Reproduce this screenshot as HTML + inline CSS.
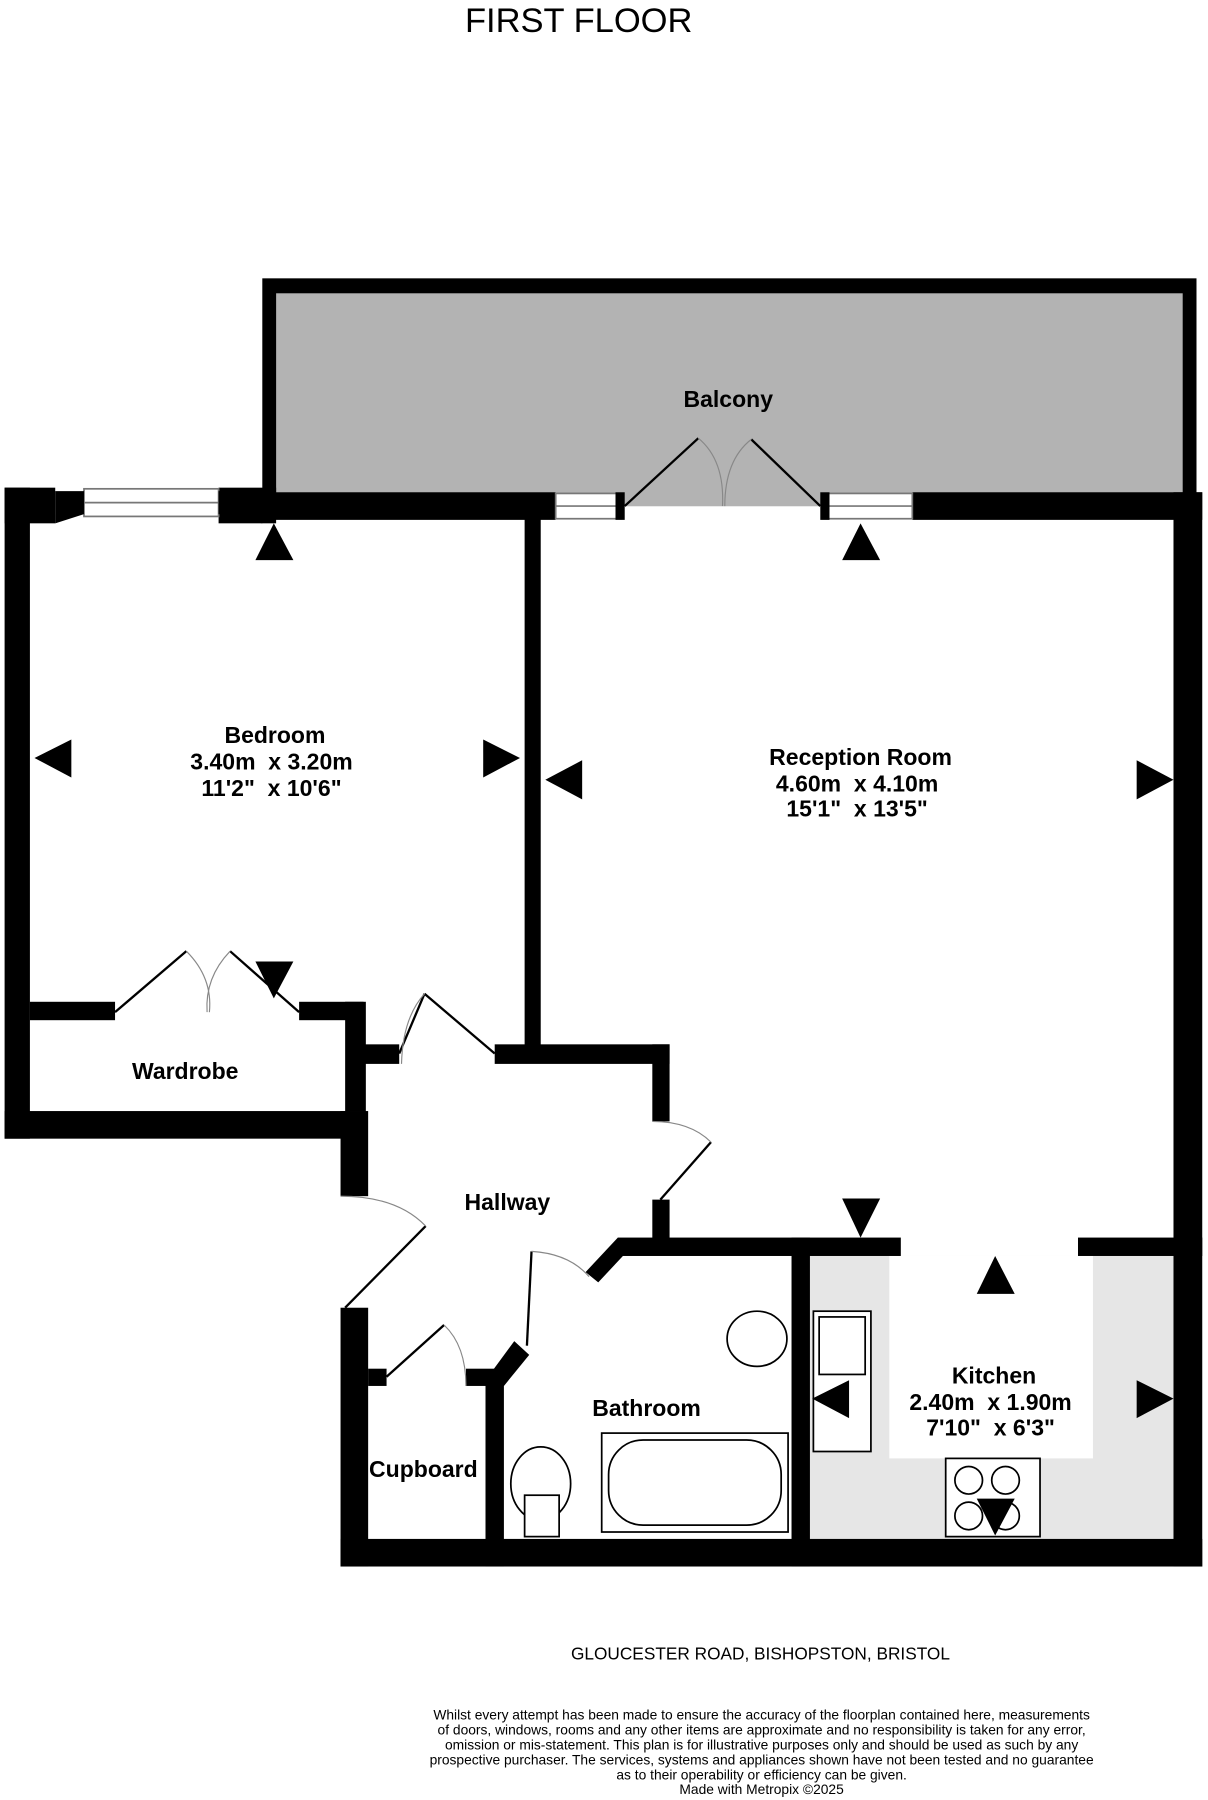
<!DOCTYPE html>
<html><head><meta charset="utf-8"><style>
html,body{margin:0;padding:0;background:#fff;}
svg{display:block;}
text{font-family:"Liberation Sans",sans-serif;white-space:pre;}
</style></head><body>
<svg width="1208" height="1800" viewBox="0 0 1050 1565" preserveAspectRatio="none" xmlns="http://www.w3.org/2000/svg">
<rect width="1050" height="1565" fill="#fff"/>
<text x="503" y="28" font-size="30" text-anchor="middle">FIRST FLOOR</text>

<rect x="228" y="242" width="812" height="198" fill="#000"/>
<rect x="240" y="255" width="788" height="185" fill="#b3b3b3"/>

<rect x="704" y="1092" width="316" height="246" fill="#e6e6e6"/>
<rect x="773" y="1092" width="177" height="176" fill="#fff"/>

<g fill="#000">
<rect x="4" y="424" width="44" height="31"/>
<rect x="190" y="424" width="50" height="31"/>
<rect x="228" y="428" width="255" height="24"/>
<rect x="793" y="428" width="252" height="24"/>
<rect x="4" y="424" width="22" height="566"/>
<rect x="1020" y="428" width="25" height="934"/>
<rect x="456" y="440" width="14" height="472"/>
<rect x="26" y="871" width="74" height="16"/>
<rect x="260" y="871" width="56" height="16"/>
<rect x="300" y="871" width="18" height="95"/>
<rect x="4" y="966" width="314" height="24"/>
<rect x="296" y="966" width="24" height="74"/>
<rect x="315" y="908" width="32" height="17"/>
<rect x="430" y="908" width="152" height="17"/>
<rect x="567" y="908" width="15" height="67"/>
<rect x="567" y="1043" width="15" height="35"/>
<rect x="537" y="1076" width="246" height="16"/>
<rect x="937" y="1076" width="108" height="16"/>
<polygon points="537,1076 547,1086 520,1115 509,1106"/>
<rect x="688" y="1076" width="16" height="286"/>
<rect x="296" y="1338" width="749" height="24"/>
<rect x="296" y="1137" width="24" height="225"/>
<rect x="320" y="1190" width="16" height="15"/>
<rect x="405" y="1190" width="30" height="15"/>
<rect x="422" y="1200" width="16" height="162"/>
<polygon points="447,1166 460,1178 438,1205 422,1200"/>
</g>

<g fill="#fff" stroke="#777" stroke-width="1.5">
<rect x="73" y="425" width="117" height="24"/>
<line x1="73" y1="437" x2="190" y2="437"/>
<rect x="483" y="429" width="57" height="22"/>
<line x1="483" y1="440" x2="540" y2="440"/>
<rect x="715" y="429" width="78" height="22"/>
<line x1="715" y1="440" x2="793" y2="440"/>
</g>
<polygon points="48,427 73,427 73,447 48,455" fill="#000"/>
<polygon points="190,427 190,447 228,455 228,427" fill="#000"/>
<rect x="535" y="428" width="8" height="24" fill="#000"/>
<rect x="713" y="428" width="8" height="24" fill="#000"/>

<g fill="none" stroke="#000" stroke-width="2">
<line x1="543" y1="440" x2="607" y2="381"/><line x1="713" y1="440" x2="653" y2="382"/>
<line x1="100" y1="880" x2="162" y2="827"/><line x1="260" y1="880" x2="200" y2="827"/>
<line x1="347" y1="916" x2="369" y2="864"/><line x1="369" y1="864" x2="430" y2="916"/>
<line x1="574" y1="1043" x2="618" y2="993"/>
<line x1="300" y1="1137" x2="370" y2="1066"/>
<line x1="336" y1="1197" x2="386" y2="1152"/>
<line x1="458" y1="1170" x2="462" y2="1088"/>
</g>
<g fill="none" stroke="#888" stroke-width="1">
<path d="M607,381 Q630,400 628,440"/><path d="M653,382 Q630,400 630,440"/>
<path d="M162,827 Q185,850 182,880"/><path d="M200,827 Q178,850 180,880"/>
<path d="M369,864 Q350,885 349,925"/>
<path d="M567,975 Q600,975 618,993"/>
<path d="M296,1040 Q345,1040 370,1066"/>
<path d="M386,1152 Q405,1170 405,1205"/>
<path d="M462,1088 Q495,1090 512,1110"/>
</g>

<g fill="#000">
<polygon points="238,455 222,487 255,487"/>
<polygon points="30,659 62,643 62,676"/>
<polygon points="452,659 420,643 420,676"/>
<polygon points="474,678 506,661 506,695"/>
<polygon points="1020,678 988,661 988,695"/>
<polygon points="748,455 732,487 765,487"/>
<polygon points="238,868 222,836 255,836"/>
<polygon points="748,1076 732,1042 765,1042"/>
<polygon points="865,1092 849,1125 882,1125"/>
<polygon points="706,1216 738,1200 738,1233"/>
<polygon points="1020,1216 988,1200 988,1233"/>
<polygon points="865,1335 849,1303 882,1303"/>
</g>

<g fill="#fff" stroke="#000" stroke-width="1.5">
<ellipse cx="658" cy="1164" rx="26" ry="24"/>
<rect x="707" y="1140" width="50" height="122"/>
<rect x="712" y="1145" width="40" height="50"/>
<rect x="523" y="1246" width="162" height="86"/>
<rect x="529" y="1252" width="150" height="74" rx="30"/>
<ellipse cx="470" cy="1290" rx="26" ry="32"/>
<rect x="456" y="1300" width="30" height="36"/>
<rect x="822" y="1268" width="82" height="68"/>
<circle cx="842" cy="1287" r="12"/><circle cx="874" cy="1287" r="12"/>
<circle cx="842" cy="1318" r="12"/><circle cx="874" cy="1318" r="12"/>
</g>
<g fill="#000">
<polygon points="865,1335 849,1303 882,1303"/>
<polygon points="706,1216 738,1200 738,1233"/>
</g>

<g font-weight="bold" font-size="20" text-anchor="middle" fill="#000">
<text x="633" y="354">Balcony</text>
<text x="239" y="646">Bedroom</text>
<text x="236" y="669">3.40m  x 3.20m</text>
<text x="236" y="692">11'2"  x 10'6"</text>
<text x="748" y="665">Reception Room</text>
<text x="745" y="688">4.60m  x 4.10m</text>
<text x="745" y="710">15'1"  x 13'5"</text>
<text x="161" y="938">Wardrobe</text>
<text x="441" y="1052">Hallway</text>
<text x="562" y="1231">Bathroom</text>
<text x="368" y="1284">Cupboard</text>
<text x="864" y="1203">Kitchen</text>
<text x="861" y="1226">2.40m  x 1.90m</text>
<text x="861" y="1248">7'10"  x 6'3"</text>
</g>

<text x="661" y="1443" font-size="15" text-anchor="middle">GLOUCESTER ROAD, BISHOPSTON, BRISTOL</text>
<g font-size="12" text-anchor="middle">
<text x="662" y="1495">Whilst every attempt has been made to ensure the accuracy of the floorplan contained here, measurements</text>
<text x="662" y="1508">of doors, windows, rooms and any other items are approximate and no responsibility is taken for any error,</text>
<text x="662" y="1521">omission or mis-statement. This plan is for illustrative purposes only and should be used as such by any</text>
<text x="662" y="1534">prospective purchaser. The services, systems and appliances shown have not been tested and no guarantee</text>
<text x="662" y="1547">as to their operability or efficiency can be given.</text>
<text x="662" y="1560">Made with Metropix ©2025</text>
</g>
</svg>
</body></html>
